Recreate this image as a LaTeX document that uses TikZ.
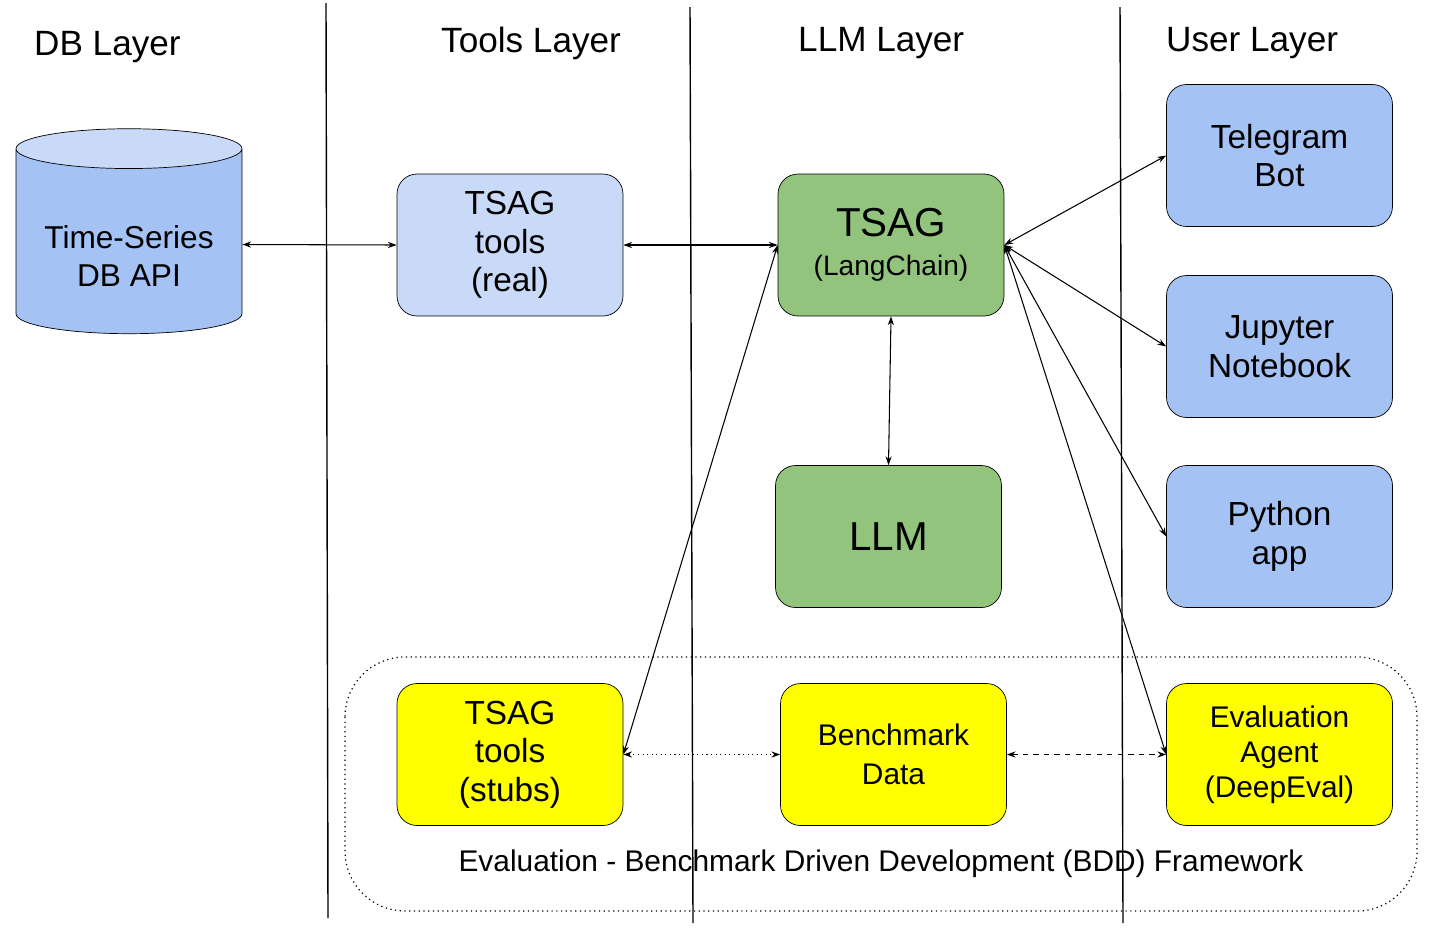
\documentclass[tikz,border=0pt]{standalone}
\usepackage{fontspec}
\setmainfont{Liberation Sans}
\usetikzlibrary{positioning,shapes.geometric,arrows.meta}
\definecolor{lightblue}{HTML}{C9DAF8}
\definecolor{midblue}{HTML}{A4C2F4}
\definecolor{leafgreen}{HTML}{93C47D}
\definecolor{brightyellow}{HTML}{FFFF00}
\begin{document}
\begin{tikzpicture}[
	x = 0.02cm, y = -0.02cm,
	box/.style = {
		draw,
		rectangle,
		rounded corners = 0.4cm,
		minimum width = 4.52cm,
		minimum height = 2.84cm,
		align = center,
		font = \fontsize{19}{22}\selectfont,
	},
	layer/.style = {
		anchor = west,
		font = \fontsize{20}{24}\selectfont,
	},
	link/.style = {
		{Stealth[length=5pt,width=3.5pt]}-{Stealth[length=5pt,width=3.5pt]},
		line width = 0.6pt,
	}
]
\useasboundingbox (0,0) rectangle (1435,931);

% layer separators
\draw [line width = 0.8pt] (326,3) -- (328,918);
\draw [line width = 0.8pt] (690,7) -- (693,923);
\draw [line width = 0.8pt] (1120,7) -- (1123,923);

\node [layer] at (28,47) {DB Layer};
\node [layer] at (435,43) {Tools Layer};
\node [layer] at (792,43) {LLM Layer};
\node [layer] at (1160,43) {User Layer};

% evaluation frame
\draw [dotted, line width = 0.7pt, rounded corners = 1.2cm] (345,657) rectangle (1417,911);
\node [font = \fontsize{17}{20}\selectfont] (bddLabel) at (881,864) {Evaluation - Benchmark Driven Development (BDD) Framework};

\node [draw, cylinder, shape border rotate = 90, aspect = 0.22,
	minimum width = 4.52cm, minimum height = 4.1cm,
	cylinder uses custom fill, cylinder body fill = midblue, cylinder end fill = lightblue,
	align = center, font = \fontsize{18}{22}\selectfont] (tsDb) at (129,244.5) {\\[4pt]Time-Series\\DB API};

\node [box, fill = lightblue] (toolsReal) at (510,245) {TSAG\\tools\\(real)};
\node [box, fill = leafgreen] (tsag) at (891,245) {\fontsize{23}{26}\selectfont TSAG\\\fontsize{16}{20}\selectfont(LangChain)};
\node [box, fill = leafgreen] (llm) at (888.5,536.5) {\fontsize{23}{26}\selectfont LLM};

\node [box, fill = midblue] (telegram) at (1279.5,155.5) {Telegram\\Bot};
\node [box, fill = midblue] (jupyter) at (1279.5,346.5) {Jupyter\\Notebook};
\node [box, fill = midblue] (python) at (1279.5,536.5) {Python\\app};

\node [box, fill = brightyellow] (toolsStub) at (510,754.5) {TSAG\\tools\\(stubs)};
\node [box, fill = brightyellow, font = \fontsize{17}{22}\selectfont] (bench) at (893.5,754.5) {Benchmark\\Data};
\node [box, fill = brightyellow, font = \fontsize{17}{20}\selectfont] (evalAgent) at (1279.5,754.5) {Evaluation\\Agent\\(DeepEval)};

\draw [link] (tsDb.east) to (toolsReal.west);
\draw [link] (toolsReal.east) to (tsag.west);
\draw [link] (tsag.east) to (telegram.west);
\draw [link] (tsag.east) to (jupyter.west);
\draw [link] (tsag.east) to (python.west);
\draw [link] (tsag.south) to (llm.north);
\draw [link] (tsag.west) to (toolsStub.east);
\draw [link] (tsag.east) to (evalAgent.west);
\draw [link, dotted] (toolsStub.east) to (bench.west);
\draw [link, dashed] (bench.east) to (evalAgent.west);
\end{tikzpicture}
\end{document}
